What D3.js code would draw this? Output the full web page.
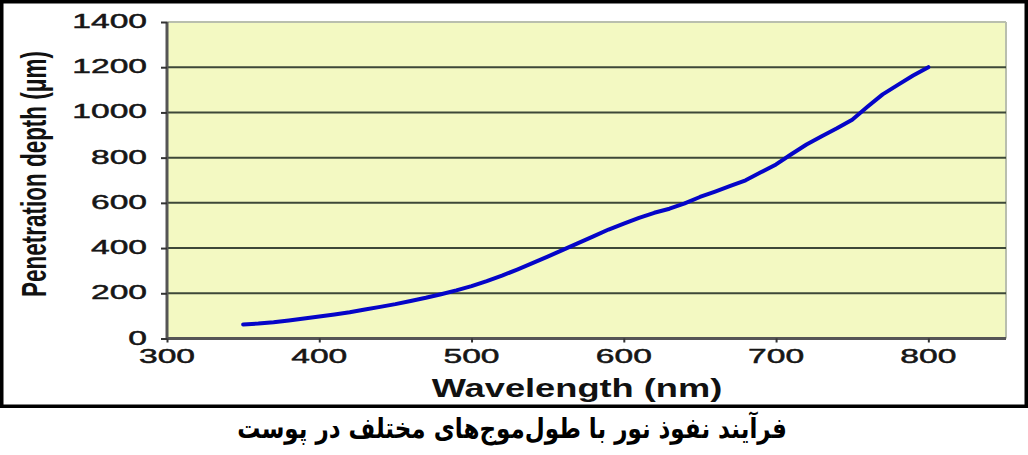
<!DOCTYPE html>
<html><head><meta charset="utf-8">
<script src="https://cdn.jsdelivr.net/npm/d3@7"></script>
<style>html,body{margin:0;padding:0;background:#fff;}svg{display:block;}</style>
</head><body>
<svg id="c" width="1028" height="455"></svg>
<script>
const wavelengths = [350,360,370,380,390,400,410,420,430,440,450,460,470,480,490,500,510,520,530,540,550,560,570,580,590,600,610,620,630,640,650,660,670,680,690,700,710,720,730,740,750,760,770,780,790,800];
const depths = [62,66,72,80,88,97,106,116,128,140,152,166,180,196,213,232,254,278,305,333,362,392,422,452,482,508,534,556,574,598,626,650,675,700,735,770,815,858,895,930,968,1025,1080,1122,1163,1200];
const xTicks = [300,400,500,600,700,800];
const yTicks = [0,200,400,600,800,1000,1200,1400];
const xTitle = "Wavelength (nm)";
const yTitle = "Penetration depth (\u03bcm)";
const caption = "فرآیند نفوذ نور با طول‌موج‌های مختلف در پوست";

const svg = d3.select("#c");
const L = 167, R = 1006, T = 22, B = 338.5;
const x = d3.scaleLinear().domain([300, 851]).range([L, R]);
const y = d3.scaleLinear().domain([0, 1400]).range([B, T]);
const SX = 1.6;
const font = "'Liberation Sans', Arial, sans-serif";

svg.append("rect").attr("x",1.75).attr("y",1.75).attr("width",1024.5).attr("height",404.5)
  .attr("fill","#fff").attr("stroke","#000").attr("stroke-width",3.5);

svg.append("rect").attr("x",L).attr("y",T).attr("width",R-L).attr("height",B-T)
  .attr("fill","#f3f9c2");
svg.append("line").attr("x1",L).attr("x2",R).attr("y1",T).attr("y2",T).attr("stroke","#b9bfae").attr("stroke-width",2);
svg.append("line").attr("x1",R).attr("x2",R).attr("y1",T).attr("y2",B).attr("stroke","#b9bfae").attr("stroke-width",2);

svg.append("g").selectAll("line").data(yTicks.filter(d=>d>0 && d<1400)).join("line")
  .attr("x1",L).attr("x2",R).attr("y1",d=>y(d)).attr("y2",d=>y(d))
  .attr("stroke","#3d4838").attr("stroke-width",2);

const yAxis = d3.axisLeft(y).tickValues(yTicks).tickSize(6).tickFormat("");
const xAxis = d3.axisBottom(x).tickValues(xTicks).tickSize(4).tickFormat("");
const gy = svg.append("g").attr("transform",`translate(${L},0)`).call(yAxis);
const gx = svg.append("g").attr("transform",`translate(0,${B})`).call(xAxis);
[gy,gx].forEach(g=>{
  g.select(".domain").attr("stroke","#555").attr("stroke-width",3);
  g.selectAll(".tick line").attr("stroke","#333").attr("stroke-width",2);
});
gx.select(".domain").attr("d",`M${L},0H${R}`);
gy.select(".domain").attr("d",`M0,${B}V${T}`);

const line = d3.line().x((d,i)=>x(wavelengths[i])).y(d=>y(d));
svg.append("path").datum(depths).attr("d",line).attr("fill","none")
  .attr("stroke","#0505c8").attr("stroke-width",4).attr("stroke-linejoin","round").attr("stroke-linecap","round");

function stext(px,py,str,opts){
  return svg.append("text")
    .attr("transform",`translate(${px},${py}) scale(${opts.sx||SX},1)${opts.rot?` rotate(${opts.rot})`:''}`)
    .attr("text-anchor",opts.anchor||"middle")
    .attr("font-family",opts.font||font)
    .attr("font-size",opts.size)
    .attr("font-weight",opts.weight||"normal")
    .attr("fill",opts.fill||"#111")
    .attr("stroke",opts.stroke||"none")
    .attr("stroke-width",opts.sw||0)
    .text(str);
}
yTicks.forEach(v=>stext(147,y(v)+6,String(v),{anchor:"end",size:21,fill:"#161616",stroke:"#161616",sw:0.5}));
xTicks.forEach(v=>stext(x(v),363,String(v),{anchor:"middle",size:21,fill:"#161616",stroke:"#161616",sw:0.5}));
stext(577,396.5,xTitle,{size:25,weight:"bold",sx:1.45});
stext(46,174,yTitle,{size:22.5,weight:"bold",sx:1.6,rot:-90});

const cap = svg.append("text").attr("x",512).attr("y",438).attr("text-anchor","middle")
  .attr("direction","rtl")
  .attr("font-family","'DejaVu Sans', sans-serif").attr("font-size",28).attr("font-weight","bold")
  .attr("fill","#000").text(caption);
const w = cap.node().getComputedTextLength();
cap.attr("transform",`translate(512,0) scale(${550 / w},1) translate(-512,0)`);
</script>
</body></html>
